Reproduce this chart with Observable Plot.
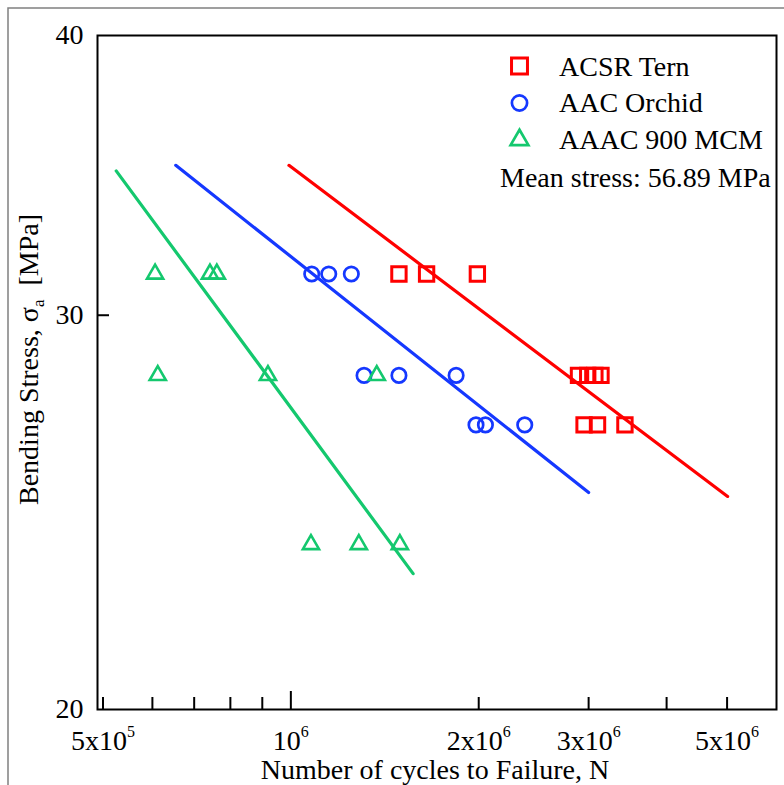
<!DOCTYPE html>
<html>
<head>
<meta charset="utf-8">
<script src="https://cdn.jsdelivr.net/npm/d3@7"></script>
<script src="https://cdn.jsdelivr.net/npm/@observablehq/plot@0.6"></script>
<style>
  html, body { margin: 0; padding: 0; background: #fff; overflow: hidden; }
  #chart { position: relative; width: 784px; height: 785px; }
  #chart svg text { white-space: pre; }
</style>
</head>
<body>
<div id="chart"></div>
<script>
// S–N fatigue results: cycles to failure N against bending stress amplitude σa (MPa)
const seriesNames = ["ACSR Tern", "AAC Orchid", "AAAC 900 MCM"];
const seriesColors = ["#ff0000", "#1538ff", "#14c86e"];

const acsrCycles = [1.49e6, 1.65e6, 1.99e6, 2.89e6, 2.99e6, 3.07e6, 3.14e6, 2.95e6, 3.10e6, 3.43e6];
const acsrStress = [31.3, 31.3, 31.3, 28.2, 28.2, 28.2, 28.2, 26.8, 26.8, 26.8];

const aacCycles = [1.08e6, 1.15e6, 1.25e6, 1.31e6, 1.49e6, 1.84e6, 1.98e6, 2.05e6, 2.37e6];
const aacStress = [31.3, 31.3, 31.3, 28.2, 28.2, 28.2, 26.8, 26.8, 26.8];

const aaacCycles = [6.06e5, 7.42e5, 7.61e5, 6.12e5, 9.19e5, 1.373e6, 1.077e6, 1.285e6, 1.495e6];
const aaacStress = [31.3, 31.3, 31.3, 28.2, 28.2, 28.2, 23.7, 23.7, 23.7];

// Fitted S–N curves (straight in log–log), given by their end points
const acsrFitCycles = [9.93e5, 5.01e6];
const acsrFitStress = [35.0, 24.9];
const aacFitCycles = [6.54e5, 3.0e6];
const aacFitStress = [35.0, 25.0];
const aaacFitCycles = [5.25e5, 1.57e6];
const aaacFitStress = [34.8, 23.0];

const meanStressNote = "Mean stress: 56.89 MPa";

// Axis ticks and labels
const xTickValues = [5e5, 1e6, 2e6, 3e6, 5e6];
const xTickLabels = ["5x10^5", "10^6", "2x10^6", "3x10^6", "5x10^6"];
const xMinorTicks = [5e5, 6e5, 7e5, 8e5, 9e5, 2e6, 3e6, 4e6, 5e6];
const xMajorTicks = [1e6];
const yTickValues = [20, 30, 40];
const yTickLabels = ["20", "30", "40"];
const xLabel = "Number of cycles to Failure, N";
const yLabel = "Bending Stress, σ_a \u00a0[MPa]";

const pts = (xs, ys) => xs.map((x, i) => ({x, y: ys[i]}));
const xMin = 4.9e5, xMax = 6.0e6, yMin = 20, yMax = 40;
const serif = "'Liberation Serif', 'Times New Roman', Times, serif";

const chart = Plot.plot({
  width: 784,
  height: 785,
  marginLeft: 97,
  marginRight: 8,
  marginTop: 35,
  marginBottom: 76,
  style: {fontFamily: serif, background: "#fff", color: "#000", overflow: "visible"},
  x: {type: "log", domain: [xMin, xMax], axis: null},
  y: {type: "log", domain: [yMin, yMax], axis: null},
  marks: [
    // fitted curves
    Plot.line(pts(acsrFitCycles, acsrFitStress), {x: "x", y: "y", stroke: seriesColors[0], strokeWidth: 3.2}),
    Plot.line(pts(aacFitCycles, aacFitStress), {x: "x", y: "y", stroke: seriesColors[1], strokeWidth: 3.2}),
    Plot.line(pts(aaacFitCycles, aaacFitStress), {x: "x", y: "y", stroke: seriesColors[2], strokeWidth: 3.2}),
    // test results
    Plot.dot(pts(acsrCycles, acsrStress), {x: "x", y: "y", symbol: "square", r: 8.1, stroke: seriesColors[0], strokeWidth: 3, fill: "none"}),
    Plot.dot(pts(aacCycles, aacStress), {x: "x", y: "y", symbol: "circle", r: 7.2, stroke: seriesColors[1], strokeWidth: 2.7, fill: "none"}),
    Plot.dot(pts(aaacCycles, aaacStress), {x: "x", y: "y", symbol: "triangle", r: 6, stroke: seriesColors[2], strokeWidth: 2.6, fill: "none"}),
    // inward tick marks
    Plot.ruleX(xMinorTicks, {x: d => d, y1: () => yMin, y2: () => yMin, insetTop: -12, stroke: "#000", strokeWidth: 2}),
    Plot.ruleX(xMajorTicks, {x: d => d, y1: () => yMin, y2: () => yMin, insetTop: -18, stroke: "#000", strokeWidth: 2}),
    Plot.ruleY([30], {y: d => d, x1: () => xMin, x2: () => xMin, insetRight: -12, stroke: "#000", strokeWidth: 2}),
    Plot.frame({stroke: "#000", strokeWidth: 2}),
    // tick labels
    Plot.text(xTickValues, {x: d => d, y: () => yMin, text: (d, i) => xTickLabels[i], dy: 32, fontSize: 28, fill: "#000"}),
    Plot.text(yTickValues, {x: () => xMin, y: d => d, text: (d, i) => yTickLabels[i], textAnchor: "end", dx: -14, fontSize: 28, fill: "#000"}),
    // axis titles
    Plot.text([xLabel], {frameAnchor: "bottom", text: d => d, textAnchor: "middle", lineAnchor: "bottom", dy: 69, dx: -2, fontSize: 28, fill: "#000"}),
    Plot.text([yLabel], {frameAnchor: "left", text: d => d, textAnchor: "middle", rotate: -90, lineAnchor: "bottom", dx: -60, dy: -13, fontSize: 28, fill: "#000"})
  ]
});

// Superscript (^) and subscript (_) markup in labels
d3.select(chart).selectAll("text").each(function() {
  const t = this.textContent;
  if (t.includes("^")) {
    const [base, sup] = t.split("^");
    this.textContent = "";
    d3.select(this).append("tspan").text(base);
    d3.select(this).append("tspan").attr("dy", -13).attr("font-size", 16).text(sup);
  } else if (t.includes("_")) {
    const [base, rest] = t.split("_");
    this.textContent = "";
    d3.select(this).append("tspan").text(base);
    d3.select(this).append("tspan").attr("dy", 6).attr("font-size", 17).text(rest[0]);
    d3.select(this).append("tspan").attr("dy", -6).text(rest.slice(1));
  }
});

// Legend
const svg = d3.select(chart);
const legend = svg.append("g")
  .attr("font-family", serif)
  .attr("font-size", 28)
  .attr("fill", "#000")
  .attr("text-anchor", "start");
const legendSymbols = [d3.symbolSquare, d3.symbolCircle, d3.symbolTriangle];
const legendR = [9, 7.6, 6.6];
const legendY = [66, 103, 140];
const legendBase = [76, 112, 149];
seriesNames.forEach((name, i) => {
  legend.append("path")
    .attr("transform", `translate(519.5,${legendY[i]})`)
    .attr("d", d3.symbol(legendSymbols[i], Math.PI * legendR[i] * legendR[i])())
    .attr("fill", "none")
    .attr("stroke", seriesColors[i])
    .attr("stroke-width", i === 0 ? 3 : 2.7);
  legend.append("text").attr("x", 559).attr("y", legendBase[i]).text(name);
});
legend.append("text").attr("x", 500).attr("y", 187).text(meanStressNote);

// Page frame
svg.append("path")
  .attr("d", "M8,785V8H784")
  .attr("fill", "none")
  .attr("stroke", "#808080")
  .attr("stroke-width", 1.5);

document.getElementById("chart").appendChild(chart);
</script>
</body>
</html>
